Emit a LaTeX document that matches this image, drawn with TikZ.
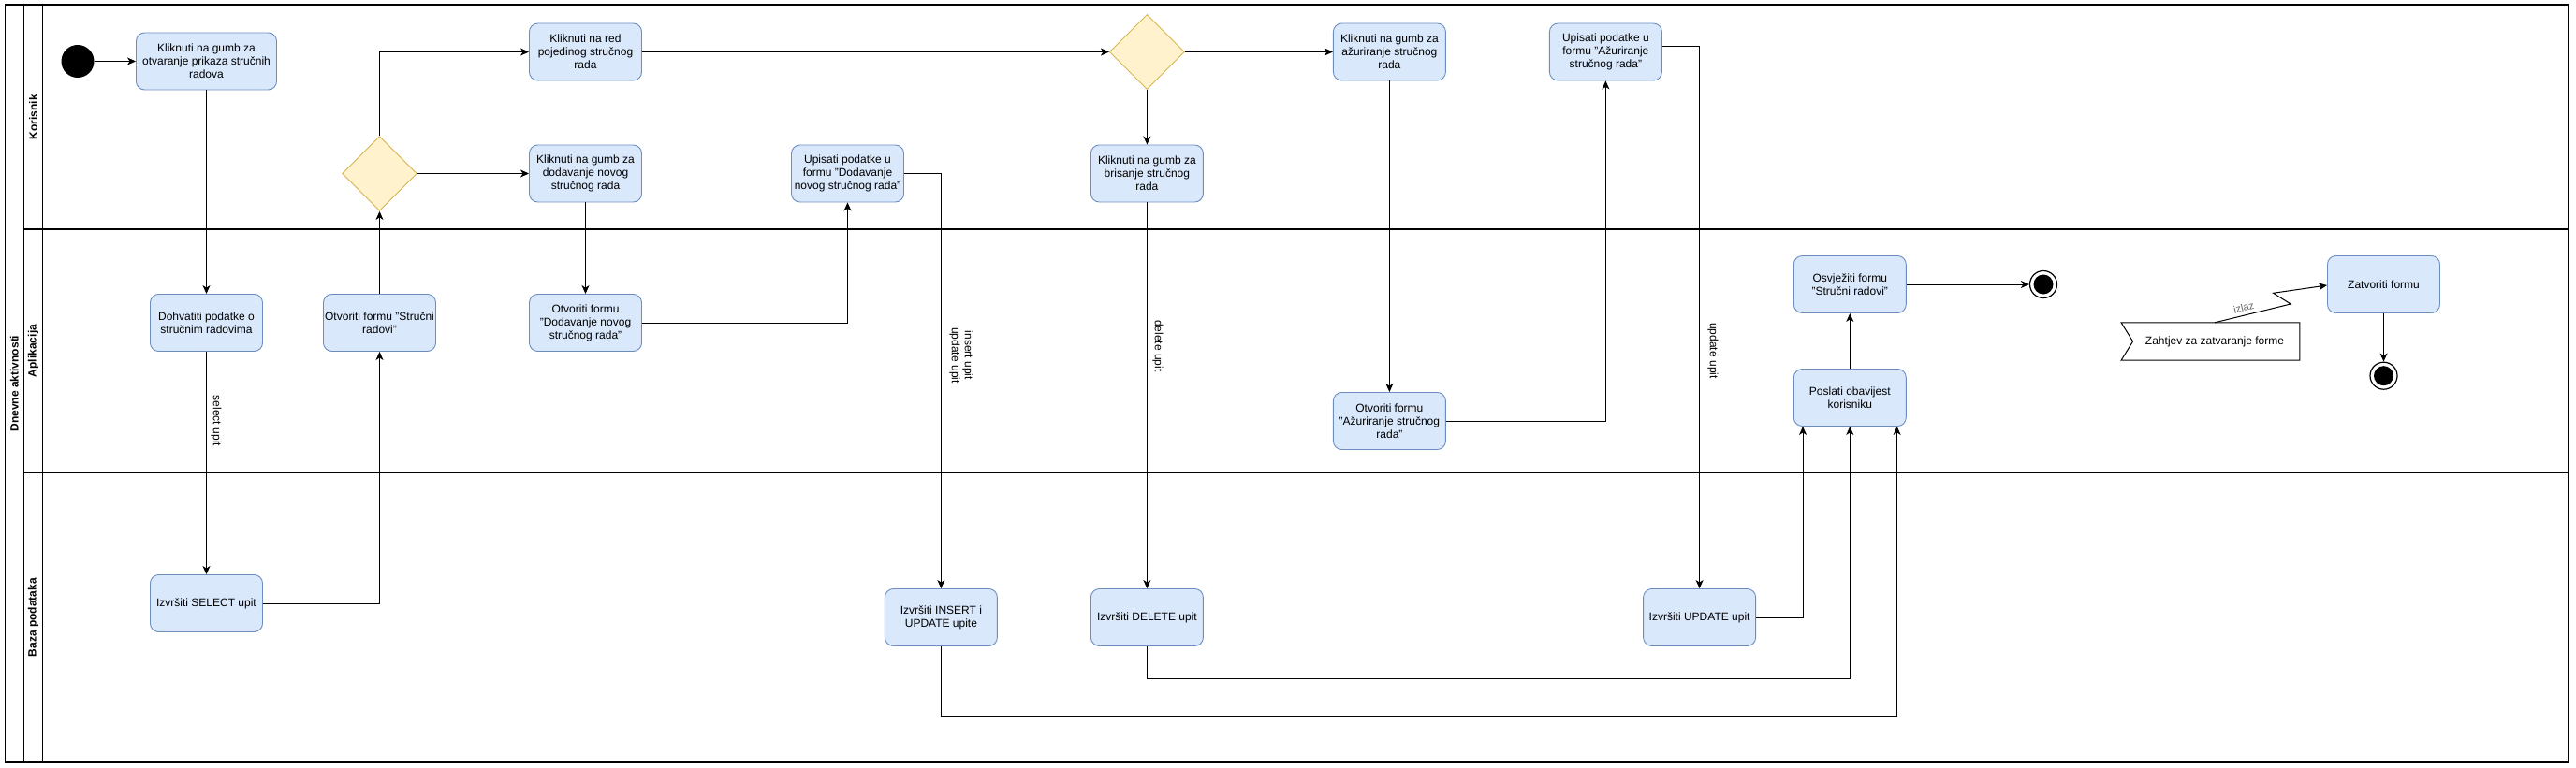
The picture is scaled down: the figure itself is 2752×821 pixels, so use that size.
\documentclass[tikz,border=0pt]{standalone}
\usepackage{fontspec}
\setmainfont{Liberation Sans}
\usetikzlibrary{arrows.meta,shapes.geometric,calc}
\definecolor{boxfill}{HTML}{DAE8FC}
\definecolor{boxdraw}{HTML}{6C8EBF}
\definecolor{dfill}{HTML}{FFF2CC}
\definecolor{ddraw}{HTML}{D6B656}
\definecolor{labgray}{HTML}{666666}
\begin{document}
\begin{tikzpicture}[x=1pt,y=-1pt,
  act/.style={rectangle, rounded corners=9pt, draw=boxdraw, fill=boxfill, line width=0.9pt,
    minimum width=120pt, minimum height=61pt, align=center, inner sep=1.5pt,
    font=\fontsize{12}{14}\selectfont},
  dec/.style={diamond, aspect=1, draw=ddraw, fill=dfill, line width=0.9pt,
    minimum size=80pt, inner sep=0pt},
  startc/.style={circle, fill=black, minimum size=35pt, inner sep=0pt},
  endc/.style={circle, draw=black, line width=1.2pt, fill=white, minimum size=29pt, inner sep=0pt,
    path picture={\fill[black] (path picture bounding box.center) circle (10.5pt);}},
  flow/.style={draw=black, line width=1pt, -{Stealth[length=9pt,width=8pt,inset=2.5pt]}},
  lane/.style={draw=black, line width=1.3pt},
  lanelab/.style={font=\bfseries\fontsize{12}{14}\selectfont, rotate=90, inner sep=0pt},
  elab/.style={font=\fontsize{12}{14}\selectfont, rotate=-90, align=center, inner sep=0pt},
]
\useasboundingbox (0,0) rectangle (2752,821);

% pool and lanes
\draw[lane] (5.4,5) rectangle (2744,815);
\draw[lane] (25.4,5) -- (25.4,815);
\draw[lane] (45.5,5) -- (45.5,815);
\draw[lane] (25.4,245) -- (2744,245);
\draw[lane] (25.4,505.7) -- (2744,505.7);
\node[lanelab] (pool) at (15.4,410) {Dnevne aktivnosti};
\node[lanelab] (l1) at (35.5,125) {Korisnik};
\node[lanelab] (l2) at (35.5,375) {Aplikacija};
\node[lanelab] (l3) at (35.5,660) {Baza podataka};

% nodes
\node[startc] (st) at (83,65.5) {};
\node[act, minimum width=150pt] (a1) at (220.5,65.5) {Kliknuti na gumb za\\otvaranje prikaza stručnih\\radova};
\node[act] (a2) at (220.5,345) {Dohvatiti podatke o\\stručnim radovima};
\node[act] (a3) at (220.5,645) {Izvršiti SELECT upit};
\node[act] (a4) at (405.5,345) {Otvoriti formu "Stručni\\radovi"};
\node[dec] (d1) at (405.5,185.5) {};
\node[act] (a5) at (625.5,55.5) {Kliknuti na red\\pojedinog stručnog\\rada};
\node[act] (a6) at (625.5,185.5) {Kliknuti na gumb za\\dodavanje novog\\stručnog rada};
\node[act] (a7) at (625.5,345) {Otvoriti formu\\"Dodavanje novog\\stručnog rada"};
\node[act] (a8) at (905.5,185.5) {Upisati podatke u\\formu "Dodavanje\\novog stručnog rada"};
\node[act] (a9) at (1005.4,660) {Izvršiti INSERT i\\UPDATE upite};
\node[dec] (d2) at (1225.4,55.5) {};
\node[act] (a10) at (1225.4,185.5) {Kliknuti na gumb za\\brisanje stručnog\\rada};
\node[act] (a11) at (1225.4,660) {Izvršiti DELETE upit};
\node[act] (a12) at (1484.4,55.5) {Kliknuti na gumb za\\ažuriranje stručnog\\rada};
\node[act] (a13) at (1484.4,450) {Otvoriti formu\\"Ažuriranje stručnog\\rada"};
\node[act] (a14) at (1715.4,55.5) {Upisati podatke u\\formu "Ažuriranje\\stručnog rada"};
\node[act] (a15) at (1815.6,660) {Izvršiti UPDATE upit};
\node[act] (a16) at (1976.3,425) {Poslati obavijest\\korisniku};
\node[act] (a17) at (1976.3,304) {Osvježiti formu\\"Stručni radovi"};
\node[endc] (e1) at (2183,304) {};
\node[act] (a18) at (2546.5,304) {Zatvoriti formu};
\node[endc] (e2) at (2546.5,401.7) {};
\node[rectangle, minimum width=190.5pt, minimum height=40pt, inner sep=0pt,
  font=\fontsize{12}{14}\selectfont] (sig) at (2361.5,365) {\hspace{9pt}Zahtjev za zatvaranje forme};
\draw[black, line width=1pt] (sig.north west) -- (sig.north east) -- (sig.south east)
  -- (sig.south west) -- ([xshift=12.5pt]sig.west) -- cycle;

% edge labels
\node[elab] (t1) at (231,450) {select upit};
\node[elab] (t2) at (1027,380) {insert upit\\update upit};
\node[elab] (t3) at (1237,370) {delete upit};
\node[elab] (t4) at (1830,375) {update upit};

% helper coordinates
\coordinate (c1) at (1976.3,725);
\coordinate (c2) at (2026.6,765);
\coordinate (z1) at (2447.2,325);
\coordinate (z2) at (2428.5,313.3);

% connectors
\draw[flow] (st) -- (a1);
\draw[flow] (a1) -- (a2);
\draw[flow] (a2) -- (a3);
\draw[flow] (a3.east) -| (a4.south);
\draw[flow] (a4) -- (d1);
\draw[flow] (d1.north) |- (a5.west);
\draw[flow] (d1.east) -- (a6.west);
\draw[flow] (a6) -- (a7);
\draw[flow] (a7.east) -| (a8.south);
\draw[flow] (a8.east) -| (a9.north);
\draw[flow] (a5.east) -- (d2.west);
\draw[flow] (d2) -- (a10);
\draw[flow] (d2.east) -- (a12.west);
\draw[flow] (a10) -- (a11);
\draw[flow] (a12) -- (a13);
\draw[flow] (a13.east) -| (a14.south);
\draw[flow] ([yshift=5.5pt]a14.east) -| (a15.north);
\draw[flow] (a15.east) -| ([xshift=-50.3pt]a16.south);
\draw[flow] (a11.south) |- (c1) -- (a16.south);
\draw[flow] (a9.south) |- (c2) -- ([xshift=50.3pt]a16.south);
\draw[flow] (a16) -- (a17);
\draw[flow] (a17) -- (e1);
\draw[flow] (a18) -- (e2);
\draw[flow] ([xshift=4.5pt]sig.north) -- (z1) -- (z2) -- ([yshift=-1pt]a18.west);
\node[font=\fontsize{11}{13}\selectfont, text=labgray, rotate=14, inner sep=0pt] (iz) at (2397,329) {izlaz};
\end{tikzpicture}
\end{document}
